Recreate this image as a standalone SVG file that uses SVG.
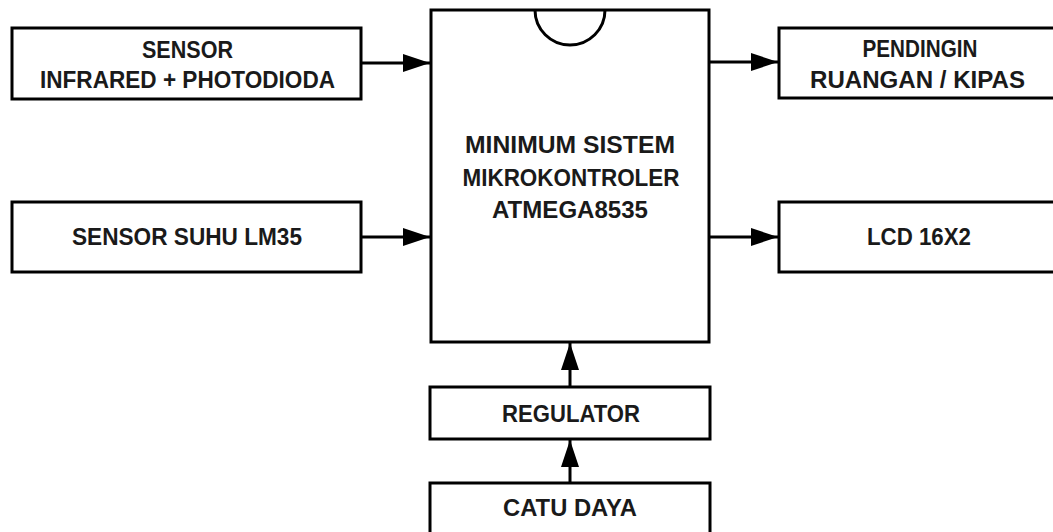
<svg xmlns="http://www.w3.org/2000/svg" width="1053" height="532" viewBox="0 0 1053 532">
<style>
.box{fill:#fff;stroke:#000;stroke-width:3}
.lbl{font-family:"Liberation Sans",Arial,sans-serif;font-weight:bold;font-size:23px;fill:#1a1a1a;text-anchor:middle}
.con{stroke:#000;stroke-width:3;fill:none}
</style>
<defs>
<marker id="ah" markerUnits="userSpaceOnUse" markerWidth="28" markerHeight="18" refX="27" refY="9" orient="auto">
<path d="M0,0 L27,9 L0,18 Z" fill="#000"/>
</marker>
</defs>
<rect width="1053" height="532" fill="#fff"/>
<g id="sensor-ir">
<rect class="box" x="12" y="28" width="349" height="71"/>
<text class="lbl" x="187.5" y="58" textLength="91" lengthAdjust="spacingAndGlyphs">SENSOR</text>
<text class="lbl" x="187.5" y="88" textLength="295" lengthAdjust="spacingAndGlyphs">INFRARED + PHOTODIODA</text>
</g>
<g id="sensor-suhu">
<rect class="box" x="12" y="202" width="349" height="70"/>
<text class="lbl" x="187" y="245" textLength="230" lengthAdjust="spacingAndGlyphs">SENSOR SUHU LM35</text>
</g>
<g id="mcu">
<rect class="box" x="431" y="10" width="278" height="332"/>
<path class="con" d="M535,10 A35,35 0 0 0 605,10"/>
<text class="lbl" x="570" y="153" textLength="210" lengthAdjust="spacingAndGlyphs">MINIMUM SISTEM</text>
<text class="lbl" x="571" y="186" textLength="217" lengthAdjust="spacingAndGlyphs">MIKROKONTROLER</text>
<text class="lbl" x="570" y="218" textLength="156" lengthAdjust="spacingAndGlyphs">ATMEGA8535</text>
</g>
<g id="pendingin">
<rect class="box" x="779" y="28" width="277" height="70"/>
<text class="lbl" x="920" y="57" textLength="115" lengthAdjust="spacingAndGlyphs">PENDINGIN</text>
<text class="lbl" x="917.5" y="88" textLength="215" lengthAdjust="spacingAndGlyphs">RUANGAN / KIPAS</text>
</g>
<g id="lcd">
<rect class="box" x="779" y="202" width="277" height="70"/>
<text class="lbl" x="919" y="245" textLength="104" lengthAdjust="spacingAndGlyphs">LCD 16X2</text>
</g>
<g id="regulator">
<rect class="box" x="430" y="387" width="280" height="52"/>
<text class="lbl" x="571" y="422" textLength="138" lengthAdjust="spacingAndGlyphs">REGULATOR</text>
</g>
<g id="catu-daya">
<rect class="box" x="430" y="483" width="280" height="60"/>
<text class="lbl" x="570" y="516" textLength="134" lengthAdjust="spacingAndGlyphs">CATU DAYA</text>
</g>
<g id="connectors">
<line class="con" x1="361" y1="63" x2="430" y2="63" marker-end="url(#ah)"/>
<line class="con" x1="361" y1="237" x2="430" y2="237" marker-end="url(#ah)"/>
<line class="con" x1="709" y1="62" x2="778" y2="62" marker-end="url(#ah)"/>
<line class="con" x1="709" y1="237" x2="778" y2="237" marker-end="url(#ah)"/>
<line class="con" x1="570" y1="387" x2="570" y2="343" marker-end="url(#ah)"/>
<line class="con" x1="570" y1="483" x2="570" y2="440" marker-end="url(#ah)"/>
</g>
</svg>
